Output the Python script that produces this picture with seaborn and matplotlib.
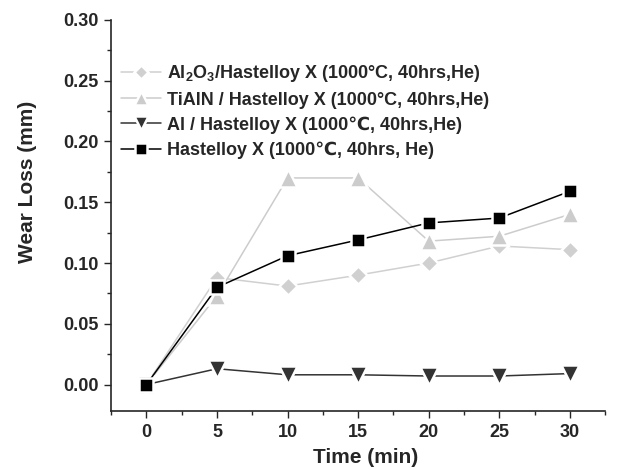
import matplotlib
matplotlib.use("Agg")
import matplotlib.pyplot as plt
import seaborn as sns
import pandas as pd
from matplotlib.ticker import MultipleLocator

time_min = [0, 5, 10, 15, 20, 25, 30]
al2o3 = [0.000, 0.088, 0.081, 0.090, 0.100, 0.114, 0.111]
tialn = [0.000, 0.073, 0.170, 0.170, 0.118, 0.122, 0.140]
al = [0.000, 0.013, 0.008, 0.008, 0.007, 0.007, 0.009]
hastelloy = [0.000, 0.080, 0.106, 0.119, 0.133, 0.137, 0.159]

labels = [
    r"Al$_\mathbf{2}$O$_\mathbf{3}$/Hastelloy X (1000°C, 40hrs,He)",
    "TiAlN / Hastelloy X (1000°C, 40hrs,He)",
    "Al / Hastelloy X (1000℃, 40hrs,He)",
    "Hastelloy X (1000℃, 40hrs, He)",
]
yticks = [0.00, 0.05, 0.10, 0.15, 0.20, 0.25, 0.30]
ytick_labels = ["0.00", "0.05", "0.10", "0.15", "0.20", "0.25", "0.30"]

sns.set_theme(style="ticks")
plt.rcParams["font.family"] = ["Liberation Sans", "DejaVu Sans"]
plt.rcParams["font.weight"] = "bold"
plt.rcParams["mathtext.fontset"] = "custom"
plt.rcParams["mathtext.rm"] = "Liberation Sans:bold"
plt.rcParams["mathtext.bf"] = "Liberation Sans:bold"

fig = plt.figure(figsize=(6.39, 4.70), dpi=100)
ax = fig.add_axes([0.174, 0.125, 0.773, 0.8325])

series = [
    (al2o3, labels[0], "#d0d0d0", "D", 9.5),
    (tialn, labels[1], "#cccccc", "^", 13),
    (al, labels[2], "#333333", "v", 12.5),
    (hastelloy, labels[3], "#000000", "s", 10),
]
for vals, lab, col, mk, ms in series:
    df = pd.DataFrame({"t": time_min, "v": vals})
    sns.lineplot(data=df, x="t", y="v", ax=ax, color=col, marker=mk,
                 markersize=ms, markeredgecolor="white", markeredgewidth=1.8,
                 markerfacecolor=col, linewidth=1.1, label=lab)

ax.set_xlim(-2.5, 32.5)
ax.set_ylim(-0.022, 0.30)
ax.xaxis.set_major_locator(MultipleLocator(5))
ax.xaxis.set_minor_locator(MultipleLocator(2.5))
ax.yaxis.set_minor_locator(MultipleLocator(0.025))
ax.set_yticks(yticks)
ax.set_yticklabels(ytick_labels)
ax.tick_params(axis="both", which="major", length=5, width=1, labelsize=13, direction="out", pad=4)
ax.tick_params(axis="both", which="minor", length=3, width=1, direction="out")
for t in ax.get_xticklabels() + ax.get_yticklabels():
    t.set_fontweight("bold")
ax.spines["top"].set_visible(False)
ax.spines["right"].set_visible(False)
ax.spines["left"].set_linewidth(1.2)
ax.spines["bottom"].set_linewidth(1.2)
ax.set_xlabel("Time (min)", fontsize=15, fontweight="bold")
ax.set_ylabel("Wear Loss (mm)", fontsize=15, fontweight="bold")
ax.xaxis.set_label_coords(0.516, -0.095)
ax.yaxis.set_label_coords(-0.15, 0.585)

leg = ax.legend(loc="upper left", bbox_to_anchor=(-0.005, 0.922), frameon=False,
                prop={"weight": "bold", "size": 13}, handlelength=2.2,
                labelspacing=0.42, handletextpad=0.35, borderaxespad=0.3,
                markerscale=0.8)

fig.savefig("out.png", dpi=100)
